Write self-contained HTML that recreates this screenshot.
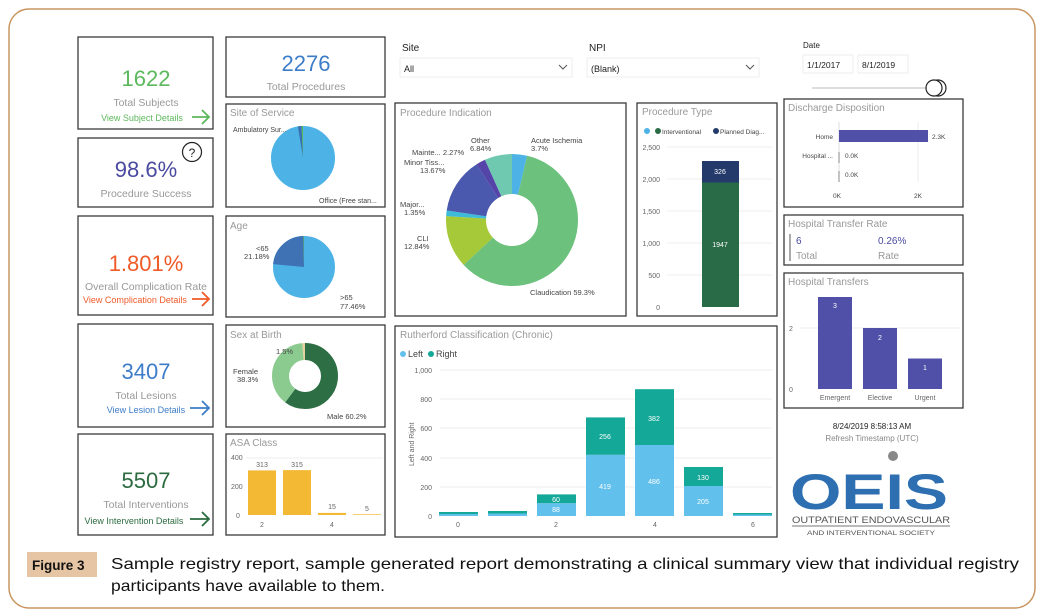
<!DOCTYPE html>
<html><head><meta charset="utf-8"><style>body{margin:0;background:#fff}svg{display:block}text{font-family:"Liberation Sans",sans-serif}</style></head><body>
<svg width="1045" height="614" viewBox="0 0 1045 614" xmlns="http://www.w3.org/2000/svg">
<rect x="9" y="9" width="1026" height="599" rx="20" fill="#fff" stroke="#c89660" stroke-width="1.5"/>
<g fill="#fff" stroke="#3a3a3a" stroke-width="1.3">
<rect x="78" y="37" width="135" height="92"/>
<rect x="78" y="138" width="135" height="69"/>
<rect x="78" y="216" width="135" height="99"/>
<rect x="78" y="324" width="135" height="103"/>
<rect x="78" y="434" width="135" height="101"/>
<rect x="226" y="37" width="159" height="60"/>
<rect x="226" y="104" width="159" height="103"/>
<rect x="226" y="216" width="159" height="101"/>
<rect x="226" y="325" width="159" height="102"/>
<rect x="226" y="434" width="159" height="101"/>
<rect x="395" y="103" width="231" height="213"/>
<rect x="637" y="103" width="140" height="213"/>
<rect x="395" y="326" width="382" height="211"/>
<rect x="784" y="99" width="179" height="108"/>
<rect x="784" y="215" width="179" height="50"/>
<rect x="784" y="273" width="179" height="135"/>
</g>
<!-- KPIs -->
<g text-anchor="middle">
<text x="146" y="86" font-size="22" fill="#5cb85c">1622</text>
<text x="146" y="106" font-size="10.5" fill="#999">Total Subjects</text>
<text x="142" y="121" font-size="9" fill="#5cb85c">View Subject Details</text>
<text x="146" y="177" font-size="22" fill="#4a4aa0">98.6%</text>
<text x="146" y="197" font-size="10.5" fill="#999">Procedure Success</text>
<text x="146" y="271" font-size="22" fill="#f05a28">1.801%</text>
<text x="146" y="290" font-size="10.5" fill="#999">Overall Complication Rate</text>
<text x="135" y="303" font-size="9" fill="#f05a28">View Complication Details</text>
<text x="146" y="379" font-size="22" fill="#3d7dc8">3407</text>
<text x="146" y="399" font-size="10.5" fill="#999">Total Lesions</text>
<text x="146" y="413" font-size="9" fill="#3d7dc8">View Lesion Details</text>
<text x="146" y="488" font-size="22" fill="#2b6b3f">5507</text>
<text x="146" y="508" font-size="10.5" fill="#999">Total Interventions</text>
<text x="134" y="524" font-size="9" fill="#2b6b3f">View Intervention Details</text>
<text x="306" y="71" font-size="22" fill="#3d7dc8">2276</text>
<text x="306" y="90" font-size="10.5" fill="#999">Total Procedures</text>
</g>
<g fill="none" stroke-width="1.8">
<path d="M192 117h17M202 110l7 7-7 7" stroke="#5cb85c"/>
<path d="M192 299h17M202 292l7 7-7 7" stroke="#f05a28"/>
<path d="M190 408h19M202 401l7 7-7 7" stroke="#3d7dc8"/>
<path d="M190 519h19M202 512l7 7-7 7" stroke="#2b6b3f"/>
</g>
<circle cx="192" cy="152" r="9.5" fill="none" stroke="#222" stroke-width="1.2"/>
<text x="192" y="157" font-size="12" text-anchor="middle" fill="#222">?</text>
<!-- titles -->
<g font-size="10" fill="#999">
<text x="230" y="116">Site of Service</text>
<text x="230" y="229">Age</text>
<text x="230" y="338">Sex at Birth</text>
<text x="230" y="446">ASA Class</text>
<text x="400" y="116">Procedure Indication</text>
<text x="642" y="115">Procedure Type</text>
<text x="400" y="338">Rutherford Classification (Chronic)</text>
<text x="788" y="111">Discharge Disposition</text>
<text x="788" y="227">Hospital Transfer Rate</text>
<text x="788" y="285">Hospital Transfers</text>
</g>
<!-- slicers -->
<text x="402" y="51" font-size="10" fill="#222">Site</text>
<rect x="400" y="58" width="172" height="19" fill="#fff" stroke="#eee"/>
<text x="404" y="72" font-size="9" fill="#222">All</text>
<path d="M559 65l4 4 4-4" fill="none" stroke="#555"/>
<text x="589" y="51" font-size="10" fill="#222">NPI</text>
<rect x="587" y="58" width="172" height="19" fill="#fff" stroke="#eee"/>
<text x="591" y="72" font-size="9" fill="#222">(Blank)</text>
<path d="M746 65l4 4 4-4" fill="none" stroke="#555"/>
<text x="803" y="48" font-size="8" fill="#222">Date</text>
<rect x="803" y="55" width="50" height="18" fill="#fff" stroke="#eee"/>
<rect x="858" y="55" width="50" height="18" fill="#fff" stroke="#eee"/>
<text x="807" y="68" font-size="8.5" fill="#222">1/1/2017</text>
<text x="862" y="68" font-size="8.5" fill="#222">8/1/2019</text>
<line x1="812" y1="88" x2="935" y2="88" stroke="#ddd" stroke-width="2"/>
<circle cx="938" cy="88" r="8" fill="#fff" stroke="#222" stroke-width="1.2"/>
<circle cx="934" cy="88" r="8" fill="#fff" stroke="#222" stroke-width="1.2"/>
<!-- Site of service pie -->
<g transform="rotate(-90 303 158)" fill="none">
<circle cx="303" cy="158" r="16" stroke="#4db3e6" stroke-width="32"/>
<circle cx="303" cy="158" r="16" stroke="#3a6fb5" stroke-width="32" stroke-dasharray="1.8 100.53" stroke-dashoffset="-97.8"/>
<circle cx="303" cy="158" r="16" stroke="#5cb85c" stroke-width="32" stroke-dasharray="0.8 100.53" stroke-dashoffset="-99.6"/>
</g>
<g font-size="7" fill="#444">
<text x="233" y="132">Ambulatory Sur...</text>
<text x="319" y="203">Office (Free stan...</text>
</g>
<!-- Age pie -->
<g transform="rotate(-90 304 267)" fill="none">
<circle cx="304" cy="267" r="15.5" stroke="#4db3e6" stroke-width="31"/>
<circle cx="304" cy="267" r="15.5" stroke="#3e72b5" stroke-width="31" stroke-dasharray="22.5 97.39" stroke-dashoffset="-74.4"/>
<circle cx="304" cy="267" r="15.5" stroke="#5cb85c" stroke-width="31" stroke-dasharray="0.8 97.39" stroke-dashoffset="-96.9"/>
</g>
<g font-size="7.5" fill="#444">
<text x="256" y="251">&lt;65</text><text x="244" y="259">21.18%</text>
<text x="340" y="300">&gt;65</text><text x="340" y="309">77.46%</text>
</g>
<!-- Sex donut -->
<g transform="rotate(-90 305 376)" fill="none">
<circle cx="305" cy="376" r="24.5" stroke="#2d6e44" stroke-width="17" stroke-dasharray="92.67 153.94"/>
<circle cx="305" cy="376" r="24.5" stroke="#8ccb8f" stroke-width="17" stroke-dasharray="58.96 153.94" stroke-dashoffset="-92.67"/>
<circle cx="305" cy="376" r="24.5" stroke="#e8cfa0" stroke-width="17" stroke-dasharray="2.31 153.94" stroke-dashoffset="-151.63"/>
</g>
<g font-size="7.5" fill="#444">
<text x="276" y="354">1.5%</text>
<text x="233" y="374">Female</text><text x="237" y="382">38.3%</text>
<text x="327" y="419">Male 60.2%</text>
</g>
<!-- ASA -->
<g font-size="7" fill="#666">
<text x="231" y="460">400</text><text x="231" y="489">200</text><text x="236" y="518">0</text>
<text x="260" y="527">2</text><text x="330" y="527">4</text>
<text x="262" y="467" text-anchor="middle">313</text><text x="297" y="467" text-anchor="middle">315</text>
<text x="332" y="509" text-anchor="middle">15</text><text x="367" y="511" text-anchor="middle">5</text>
</g>
<line x1="246" y1="458" x2="383" y2="458" stroke="#eee"/>
<g fill="#f3b935">
<rect x="248" y="470.4" width="28" height="44.6"/>
<rect x="283" y="470.1" width="28" height="44.9"/>
<rect x="318" y="512.9" width="28" height="2.1"/>
<rect x="353" y="514.3" width="28" height="0.7"/>
</g>
<!-- Procedure Indication donut -->
<g transform="rotate(-90 512 220)" fill="none" stroke-width="40">
<circle cx="512" cy="220" r="46" stroke="#4db3e6" stroke-dasharray="10.69 289.03"/>
<circle cx="512" cy="220" r="46" stroke="#6cc17c" stroke-dasharray="171.4 289.03" stroke-dashoffset="-10.69"/>
<circle cx="512" cy="220" r="46" stroke="#a6c93a" stroke-dasharray="37.11 289.03" stroke-dashoffset="-182.09"/>
<circle cx="512" cy="220" r="46" stroke="#3dbbd8" stroke-dasharray="3.9 289.03" stroke-dashoffset="-219.2"/>
<circle cx="512" cy="220" r="46" stroke="#4a58ad" stroke-dasharray="39.51 289.03" stroke-dashoffset="-223.1"/>
<circle cx="512" cy="220" r="46" stroke="#5545a8" stroke-dasharray="6.56 289.03" stroke-dashoffset="-262.61"/>
<circle cx="512" cy="220" r="46" stroke="#6ec9b0" stroke-dasharray="19.86 289.03" stroke-dashoffset="-269.17"/>
</g>
<g font-size="7.5" fill="#444">
<text x="471" y="143">Other</text><text x="470" y="151">6.84%</text>
<text x="531" y="143">Acute Ischemia</text><text x="531" y="151">3.7%</text>
<text x="412" y="155">Mainte... 2.27%</text>
<text x="404" y="165">Minor Tiss...</text><text x="420" y="173">13.67%</text>
<text x="400" y="207">Major...</text><text x="404" y="215">1.35%</text>
<text x="417" y="241">CLI</text><text x="404" y="249">12.84%</text>
<text x="530" y="295">Claudication 59.3%</text>
</g>
<!-- Procedure Type -->
<circle cx="647" cy="131" r="3" fill="#4db3e6"/><circle cx="658" cy="131" r="3" fill="#2a6b47"/>
<text x="662" y="134" font-size="6.5" fill="#444">Interventional</text>
<circle cx="716" cy="131" r="3" fill="#233a6b"/>
<text x="720" y="134" font-size="6.5" fill="#444">Planned Diag...</text>
<g stroke="#eee"><line x1="667" y1="147" x2="772" y2="147"/><line x1="667" y1="179" x2="772" y2="179"/><line x1="667" y1="211" x2="772" y2="211"/><line x1="667" y1="243" x2="772" y2="243"/><line x1="667" y1="275" x2="772" y2="275"/></g>
<g font-size="7" fill="#666" text-anchor="end">
<text x="660" y="150">2,500</text><text x="660" y="182">2,000</text><text x="660" y="214">1,500</text><text x="660" y="246">1,000</text><text x="660" y="278">500</text><text x="660" y="310">0</text>
</g>
<rect x="702" y="161" width="37" height="21.5" fill="#233a6b"/>
<rect x="702" y="182.5" width="37" height="124.5" fill="#2a6b47"/>
<text x="720" y="174" font-size="7" fill="#fff" text-anchor="middle">326</text>
<text x="720" y="247" font-size="7" fill="#fff" text-anchor="middle">1947</text>
<!-- Rutherford -->
<circle cx="403" cy="354" r="3" fill="#62c0ec"/><text x="408" y="357" font-size="9" fill="#444">Left</text>
<circle cx="431" cy="354" r="3" fill="#14a898"/><text x="436" y="357" font-size="9" fill="#444">Right</text>
<g stroke="#eee"><line x1="440" y1="370" x2="772" y2="370"/><line x1="440" y1="399" x2="772" y2="399"/><line x1="440" y1="428" x2="772" y2="428"/><line x1="440" y1="458" x2="772" y2="458"/><line x1="440" y1="487" x2="772" y2="487"/></g>
<g font-size="7" fill="#666" text-anchor="end">
<text x="432" y="373">1,000</text><text x="432" y="402">800</text><text x="432" y="431">600</text><text x="432" y="461">400</text><text x="432" y="490">200</text><text x="432" y="519">0</text>
</g>
<text transform="translate(414 466) rotate(-90)" font-size="7" fill="#666">Left and Right</text>
<g font-size="7" fill="#666" text-anchor="middle"><text x="458" y="527">0</text><text x="556" y="527">2</text><text x="655" y="527">4</text><text x="753" y="527">6</text></g>
<g fill="#62c0ec">
<rect x="439" y="514" width="39" height="2"/><rect x="488" y="513" width="39" height="3"/>
<rect x="537" y="503.2" width="39" height="12.8"/><rect x="586" y="454.8" width="39" height="61.2"/>
<rect x="635" y="445" width="39" height="71"/><rect x="684" y="486" width="39" height="30"/>
<rect x="733" y="514" width="39" height="2"/>
</g>
<g fill="#14a898">
<rect x="439" y="512" width="39" height="2"/><rect x="488" y="511" width="39" height="2.5"/>
<rect x="537" y="494.4" width="39" height="8.8"/><rect x="586" y="417.4" width="39" height="37.4"/>
<rect x="635" y="389.2" width="39" height="55.8"/><rect x="684" y="467" width="39" height="19"/>
<rect x="733" y="513" width="39" height="1.5"/>
</g>
<g font-size="7" fill="#fff" text-anchor="middle">
<text x="556" y="502">60</text><text x="556" y="512">88</text>
<text x="605" y="439">256</text><text x="605" y="489">419</text>
<text x="654" y="421">382</text><text x="654" y="484">486</text>
<text x="703" y="480">130</text><text x="703" y="504">205</text>
</g>
<!-- Discharge -->
<line x1="839" y1="122" x2="839" y2="182" stroke="#ddd"/><line x1="918" y1="122" x2="918" y2="182" stroke="#eee"/>
<rect x="839" y="130" width="89" height="12" fill="#5050a8"/>
<g font-size="6.5" fill="#444">
<text x="833" y="139" text-anchor="end">Home</text><text x="833" y="158" text-anchor="end">Hospital ...</text>
<text x="932" y="139">2.3K</text><text x="845" y="158">0.0K</text><text x="845" y="177">0.0K</text>
<text x="837" y="198" text-anchor="middle">0K</text><text x="918" y="198" text-anchor="middle">2K</text>
</g>
<line x1="839" y1="152" x2="839" y2="163" stroke="#888"/><line x1="839" y1="171" x2="839" y2="182" stroke="#888"/>
<!-- Transfer Rate -->
<rect x="789" y="234" width="2" height="27" fill="#aaa"/>
<text x="796" y="244" font-size="10" fill="#4a4aa0">6</text>
<text x="796" y="259" font-size="10" fill="#999">Total</text>
<text x="878" y="244" font-size="10" fill="#4a4aa0">0.26%</text>
<text x="878" y="259" font-size="10" fill="#999">Rate</text>
<!-- Hospital Transfers -->
<line x1="800" y1="328" x2="960" y2="328" stroke="#eee"/>
<g font-size="7" fill="#666"><text x="789" y="331">2</text><text x="789" y="392">0</text>
<text x="835" y="400" text-anchor="middle">Emergent</text><text x="880" y="400" text-anchor="middle">Elective</text><text x="925" y="400" text-anchor="middle">Urgent</text></g>
<g fill="#5050a8"><rect x="818" y="297" width="34" height="92"/><rect x="863" y="328" width="34" height="61"/><rect x="908" y="358.5" width="34" height="30.5"/></g>
<g font-size="7" fill="#fff" text-anchor="middle"><text x="835" y="308">3</text><text x="880" y="340">2</text><text x="925" y="370">1</text></g>
<!-- timestamp & logo -->
<text x="872" y="429" font-size="8" fill="#222" text-anchor="middle">8/24/2019 8:58:13 AM</text>
<text x="872" y="441" font-size="8" fill="#888" text-anchor="middle">Refresh Timestamp (UTC)</text>
<text x="869" y="509" font-size="50" font-weight="bold" fill="#2d6fb0" text-anchor="middle" textLength="158" lengthAdjust="spacingAndGlyphs">OEIS</text>
<circle cx="893" cy="456" r="5" fill="#888"/>
<text x="871" y="523" font-size="9.5" fill="#555" text-anchor="middle" textLength="158" lengthAdjust="spacingAndGlyphs">OUTPATIENT ENDOVASCULAR</text>
<line x1="792" y1="526" x2="950" y2="526" stroke="#777"/>
<text x="871" y="535" font-size="6" fill="#555" text-anchor="middle" textLength="128" lengthAdjust="spacingAndGlyphs">AND INTERVENTIONAL SOCIETY</text>
<!-- caption -->
<rect x="27" y="552" width="70" height="25" fill="#e6c5a4"/>
<text x="32" y="570" font-size="13.5" font-weight="bold" fill="#111">Figure 3</text>
<text x="111" y="569" font-size="16" fill="#111" textLength="908" lengthAdjust="spacingAndGlyphs">Sample registry report, sample generated report demonstrating a clinical summary view that individual registry</text>
<text x="111" y="591" font-size="16" fill="#111" textLength="274" lengthAdjust="spacingAndGlyphs">participants have available to them.</text>
</svg>
</body></html>
